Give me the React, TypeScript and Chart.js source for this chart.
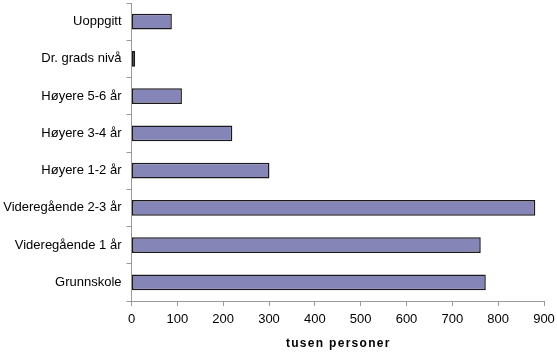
import React, { useEffect, useRef } from "react";
import { Chart, registerables } from "chart.js";

Chart.register(...registerables);

const categories = [
  "Uoppgitt",
  "Dr. grads nivå",
  "Høyere 5-6 år",
  "Høyere 3-4 år",
  "Høyere 1-2 år",
  "Videregående 2-3 år",
  "Videregående 1 år",
  "Grunnskole",
];
const values = [88, 8, 110, 220, 301, 881, 762, 773];
const xTicks = [0, 100, 200, 300, 400, 500, 600, 700, 800, 900];
const xTitle = "tusen personer";

const FONT = "'Liberation Sans', Arial, sans-serif";
const AXIS = "#9a9a9a";

export default function App() {
  const ref = useRef<HTMLCanvasElement>(null);
  useEffect(() => {
    const titlePlugin = {
      id: "xtitle",
      afterDraw(chart: any) {
        const { ctx, chartArea } = chart;
        ctx.save();
        ctx.font = `bold 12px ${FONT}`;
        (ctx as any).letterSpacing = "1.3px";
        ctx.fillStyle = "#000";
        ctx.textAlign = "center";
        ctx.textBaseline = "middle";
        ctx.fillText(xTitle, (chartArea.left + chartArea.right) / 2 + 0.6, 344);
        ctx.restore();
      },
    };
    const chart = new Chart(ref.current!, {
      type: "bar",
      data: {
        labels: categories,
        datasets: [
          {
            data: values,
            backgroundColor: "#8585b8",
            borderColor: "#1a1a1a",
            borderWidth: 1.5,
            borderSkipped: false,
            barPercentage: 0.42,
            categoryPercentage: 1,
          },
        ],
      },
      options: {
        indexAxis: "y",
        animation: false,
        responsive: false,
        maintainAspectRatio: false,
        layout: { padding: { top: 3, right: 0, left: 0, bottom: 0 } },
        plugins: { legend: { display: false }, tooltip: { enabled: false } },
        scales: {
          x: {
            min: 0,
            max: 900,
            afterBuildTicks: (s: any) => {
              s.ticks = xTicks.map((v) => ({ value: v }));
            },
            afterFit: (s: any) => {
              s.height = 51;
              s.paddingLeft = 0;
              s.paddingRight = 13;
            },
            grid: {
              display: true,
              drawOnChartArea: false,
              drawTicks: true,
              tickLength: 5,
              color: AXIS,
            },
            border: { display: true, color: AXIS, width: 1 },
            ticks: {
              color: "#000",
              font: { family: FONT, size: 13 },
              padding: 6,
              maxRotation: 0,
            },
          },
          y: {
            afterFit: (s: any) => {
              s.width = 131.5;
              s.paddingTop = 0;
              s.paddingBottom = 0;
            },
            grid: {
              display: true,
              drawOnChartArea: false,
              drawTicks: true,
              tickLength: 5,
              color: AXIS,
              offset: true,
            },
            border: { display: true, color: AXIS, width: 1 },
            ticks: {
              color: "#000",
              font: { family: FONT, size: 13 },
              padding: 5,
            },
          },
        },
      },
      plugins: [titlePlugin],
    });
    return () => chart.destroy();
  }, []);
  return (
    <div style={{ position: "fixed", left: 0, top: 0, width: 557, height: 352, background: "#fff" }}>
      <canvas ref={ref} width={557} height={352} style={{ width: 557, height: 352 }} />
    </div>
  );
}
